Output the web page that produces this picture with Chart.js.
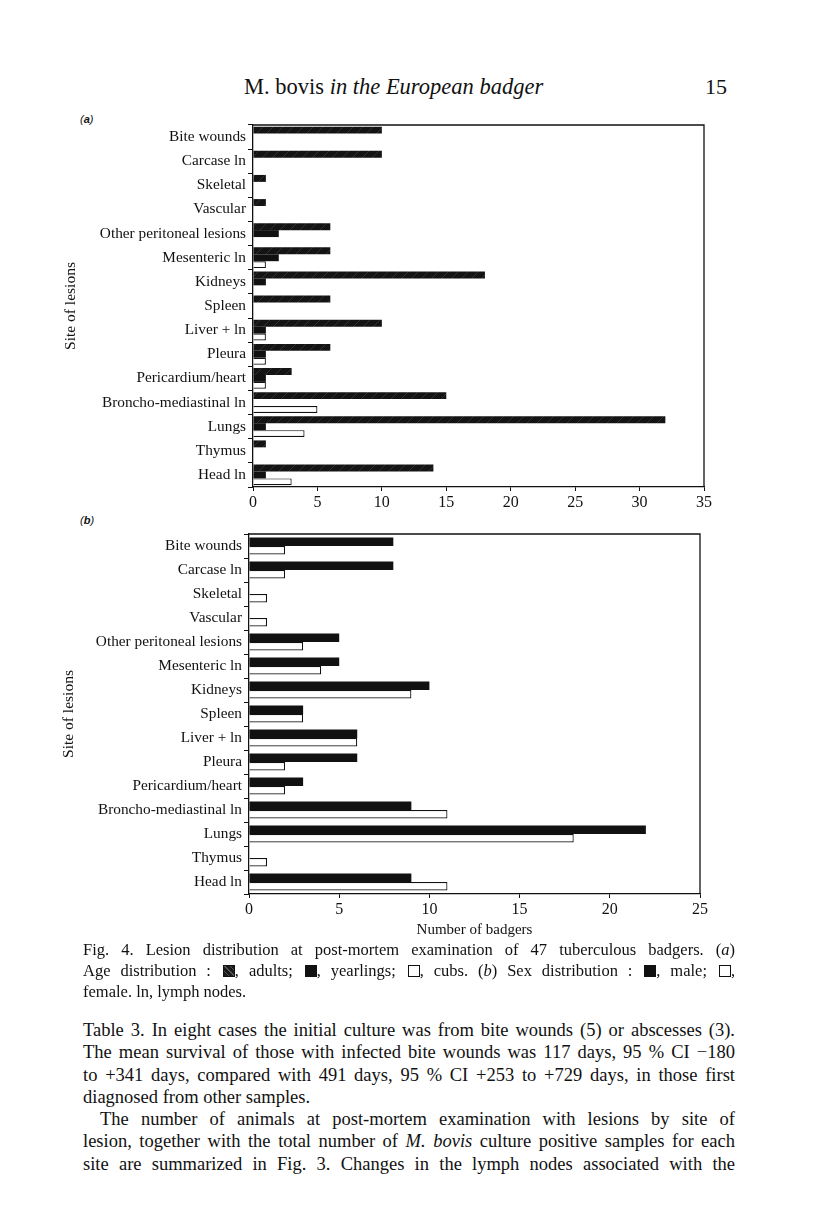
<!DOCTYPE html>
<html>
<head>
<meta charset="utf-8">
<script src="https://cdn.jsdelivr.net/npm/chart.js@4/dist/chart.umd.min.js"></script>
<style>
  body { margin: 0; background: #fff; width: 816px; height: 1230px; position: relative; overflow: hidden;
         font-family: "Liberation Serif", "DejaVu Serif", serif; color: #111; }
  .abs { position: absolute; }
  #header { left: 244px; top: 74px; font-size: 22.5px; white-space: nowrap; }
  #pageno { left: 705px; top: 74px; font-size: 22px; }
  .panel { left: 80px; font-family: "Liberation Sans", sans-serif; font-style: italic; font-size: 11px; }
  .line { text-align: justify; text-align-last: justify; white-space: nowrap; }
  .last { text-align-last: left; }
  #caption { left: 83px; top: 939px; width: 652px; font-size: 16.5px; line-height: 21px; }
  #body { left: 83px; top: 1019px; width: 652px; font-size: 18.5px; line-height: 22.3px; }
  .sq { display: inline-block; width: 10px; height: 10px; border: 1px solid #111; vertical-align: -1px; margin-left: 2px; }
  .sq.hatch { background: repeating-linear-gradient(45deg, #1a1a1a 0 3px, #555 3px 4px); }
  .sq.solid { background: #111; }
  .sq.open { background: #fff; }
  canvas { position: absolute; }
</style>
</head>
<body>
<div id="header" class="abs">M. bovis <i>in the European badger</i></div>
<div id="pageno" class="abs">15</div>
<div class="abs panel" style="top:113px">(<b>a</b>)</div>
<div class="abs panel" style="top:514px">(<b>b</b>)</div>

<div style="position:absolute;left:40px;top:110px;width:680px;height:410px">
  <canvas id="chartA"></canvas>
</div>
<div style="position:absolute;left:40px;top:520px;width:680px;height:425px">
  <canvas id="chartB"></canvas>
</div>

<div id="caption" class="abs">
  <div class="line">Fig. 4. Lesion distribution at post-mortem examination of 47 tuberculous badgers. (<i>a</i>)</div>
  <div class="line">Age distribution : <span class="sq hatch"></span>, adults; <span class="sq solid"></span>, yearlings; <span class="sq open"></span>, cubs. (<i>b</i>) Sex distribution : <span class="sq solid"></span>, male; <span class="sq open"></span>,</div>
  <div class="line last">female. ln, lymph nodes.</div>
</div>

<div id="body" class="abs">
  <div class="line">Table 3. In eight cases the initial culture was from bite wounds (5) or abscesses (3).</div>
  <div class="line">The mean survival of those with infected bite wounds was 117 days, 95 % CI −180</div>
  <div class="line">to +341 days, compared with 491 days, 95 % CI +253 to +729 days, in those first</div>
  <div class="line last">diagnosed from other samples.</div>
  <div class="line" style="padding-left:17px">The number of animals at post-mortem examination with lesions by site of</div>
  <div class="line">lesion, together with the total number of <i>M. bovis</i> culture positive samples for each</div>
  <div class="line">site are summarized in Fig. 3. Changes in the lymph nodes associated with the</div>
</div>

<script>
// --- Data ---
const categories = ['Bite wounds', 'Carcase ln', 'Skeletal', 'Vascular', 'Other peritoneal lesions',
  'Mesenteric ln', 'Kidneys', 'Spleen', 'Liver + ln', 'Pleura', 'Pericardium/heart',
  'Broncho-mediastinal ln', 'Lungs', 'Thymus', 'Head ln'];

// (a) age distribution
const adults    = [10, 10, 1, 1, 6, 6, 18, 6, 10, 6, 3, 15, 32, 1, 14];
const yearlings = [0, 0, 0, 0, 2, 2, 1, 0, 1, 1, 1, 0, 1, 0, 1];
const cubs      = [0, 0, 0, 0, 0, 1, 0, 0, 1, 1, 1, 5, 4, 0, 3];

// (b) sex distribution
const males   = [8, 8, 0, 0, 5, 5, 10, 3, 6, 6, 3, 9, 22, 0, 9];
const females = [2, 2, 1, 1, 3, 4, 9, 3, 6, 2, 2, 11, 18, 1, 11];

const xMaxA = 35;
const xMaxB = 25;
const xStep = 5;

const INK = '#111';
const serif = '"Liberation Serif", "Times New Roman", serif';

// hatched fill for the adults bars (nearly black, faint streaks)
function hatchPattern() {
  const c = document.createElement('canvas');
  c.width = 10; c.height = 10;
  const g = c.getContext('2d');
  g.fillStyle = '#141414';
  g.fillRect(0, 0, 10, 10);
  g.strokeStyle = '#303030';
  g.lineWidth = 1;
  g.beginPath();
  g.moveTo(0, 10); g.lineTo(10, 0);
  g.stroke();
  return g.createPattern(c, 'repeat');
}

// draws the top and right sides of the plot frame
const frame = {
  id: 'frame',
  afterDraw(chart) {
    const { ctx, chartArea: a } = chart;
    ctx.save();
    ctx.strokeStyle = INK;
    ctx.lineWidth = 1.3;
    ctx.beginPath();
    ctx.moveTo(a.left, a.top);
    ctx.lineTo(a.right, a.top);
    ctx.lineTo(a.right, a.bottom);
    ctx.stroke();
    ctx.restore();
  }
};

function makeOptions(xMax, yWidth, xHeight, pad, titleX, titleYPad, showXTitle) {
  return {
    indexAxis: 'y',
    responsive: true,
    maintainAspectRatio: false,
    animation: false,
    layout: { padding: pad },
    plugins: { legend: { display: false }, tooltip: { enabled: false } },
    scales: {
      x: {
        min: 0, max: xMax,
        ticks: { stepSize: xStep, color: INK, font: { family: serif, size: 16 }, padding: 2, maxRotation: 0 },
        grid: { drawOnChartArea: false, drawTicks: true, tickLength: 4, color: INK, lineWidth: 1 },
        border: { color: INK, width: 1.3 },
        title: { display: showXTitle, text: 'Number of badgers', color: INK,
                 font: { family: serif, size: 15 }, padding: { top: 0, bottom: titleX } },
        afterFit(scale) { scale.height = xHeight; }
      },
      y: {
        offset: true,
        ticks: { color: INK, font: { family: serif, size: 15.3 }, padding: 2, autoSkip: false },
        grid: { drawOnChartArea: false, drawTicks: true, tickLength: 5, color: INK, lineWidth: 1, offset: true },
        border: { color: INK, width: 1.3 },
        title: { display: true, text: 'Site of lesions', color: INK,
                 font: { family: serif, size: 15.5 }, padding: { top: titleYPad, bottom: 0 } },
        afterFit(scale) { scale.width = yWidth; }
      }
    }
  };
}

// --- Chart (a) ---
new Chart(document.getElementById('chartA').getContext('2d'), {
  type: 'bar',
  data: {
    labels: categories,
    datasets: [
      { label: 'adults', data: adults, backgroundColor: hatchPattern(), borderColor: INK, borderWidth: 0,
        categoryPercentage: 0.86, barPercentage: 1 },
      { label: 'yearlings', data: yearlings, backgroundColor: INK, borderColor: INK, borderWidth: 0,
        categoryPercentage: 0.86, barPercentage: 1 },
      { label: 'cubs', data: cubs, backgroundColor: '#fff', borderColor: INK, borderWidth: 1.2,
        categoryPercentage: 0.86, barPercentage: 1 }
    ]
  },
  options: makeOptions(xMaxA, 213, 33, { top: 15, right: 16, bottom: 0, left: 0 }, 0, 22, false),
  plugins: [frame]
});

// --- Chart (b) ---
new Chart(document.getElementById('chartB').getContext('2d'), {
  type: 'bar',
  data: {
    labels: categories,
    datasets: [
      { label: 'male', data: males, backgroundColor: INK, borderColor: INK, borderWidth: 0,
        categoryPercentage: 0.7, barPercentage: 1 },
      { label: 'female', data: females, backgroundColor: '#fff', borderColor: INK, borderWidth: 1.2,
        categoryPercentage: 0.7, barPercentage: 1 }
    ]
  },
  options: makeOptions(xMaxB, 209, 51, { top: 14, right: 20, bottom: 0, left: 0 }, 6, 20, true),
  plugins: [frame]
});
</script>
</body>
</html>
